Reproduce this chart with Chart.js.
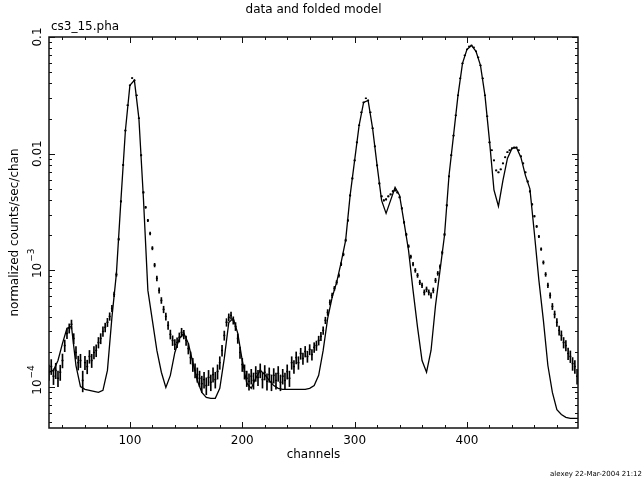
<!DOCTYPE html>
<html>
<head>
<meta charset="utf-8">
<title>data and folded model</title>
<script src="https://cdn.jsdelivr.net/npm/chart.js@4.4.1/dist/chart.umd.min.js"></script>
<style>
  html, body { margin: 0; padding: 0; background: #fff; }
  canvas { display: block; }
</style>
</head>
<body>
<canvas id="spec" width="644" height="483"></canvas>
<script>
// --- folded model (every 4th channel) ---
const modelChannels = [
  28, 32, 36, 40, 44, 48, 52, 56, 60, 64, 68, 72, 76, 80, 84, 88, 92, 96, 100, 104,
  108, 112, 116, 120, 124, 128, 132, 136, 140, 144, 148, 152, 156, 160, 164, 168, 172, 176, 180, 184,
  188, 192, 196, 200, 204, 208, 212, 216, 220, 224, 228, 232, 236, 240, 244, 248, 252, 256, 260, 264,
  268, 272, 276, 280, 284, 288, 292, 296, 300, 304, 308, 312, 316, 320, 324, 328, 332, 336, 340, 344,
  348, 352, 356, 360, 364, 368, 372, 376, 380, 384, 388, 392, 396, 400, 404, 408, 412, 416, 420, 424,
  428, 432, 436, 440, 444, 448, 452, 456, 460, 464, 468, 472, 476, 480, 484, 488, 492, 496, 499
];
const modelCounts = [
  1.34e-4, 1.39e-4, 1.69e-4, 2.37e-4, 3.19e-4, 3.31e-4, 1.53e-4, 1.01e-4, 9.56e-5, 9.37e-5,
  9.19e-5, 9.01e-5, 9.37e-5, 1.39e-4, 3.96e-4, 9.43e-4, 3.98e-3, 1.58e-2, 3.85e-2, 4.25e-2,
  2.01e-2, 4.22e-3, 6.74e-4, 3.73e-4, 2.06e-4, 1.34e-4, 9.94e-5, 1.26e-4, 1.98e-4, 2.61e-4,
  2.89e-4, 2.37e-4, 1.63e-4, 1.14e-4, 9.01e-5, 8.16e-5, 8.0e-5, 8.0e-5, 9.75e-5, 1.76e-4,
  3.58e-4, 3.88e-4, 2.89e-4, 1.69e-4, 1.08e-4, 9.75e-5, 1.19e-4, 1.39e-4, 1.28e-4, 1.14e-4,
  1.03e-4, 9.75e-5, 9.56e-5, 9.56e-5, 9.56e-5, 9.56e-5, 9.56e-5, 9.56e-5, 9.75e-5, 1.03e-4,
  1.26e-4, 2.06e-4, 3.88e-4, 5.87e-4, 7.89e-4, 1.17e-3, 1.81e-3, 4.39e-3, 8.76e-3, 1.75e-2,
  2.75e-2, 2.86e-2, 1.65e-2, 7.94e-3, 3.98e-3, 3.08e-3, 3.98e-3, 5.14e-3, 4.39e-3, 2.58e-3,
  1.48e-3, 6.74e-4, 3.25e-4, 1.69e-4, 1.34e-4, 2.06e-4, 5.01e-4, 1.0e-3, 2.0e-3, 6.5e-3,
  1.43e-2, 3.16e-2, 5.94e-2, 7.83e-2, 8.47e-2, 7.53e-2, 5.71e-2, 3.16e-2, 1.30e-2, 4.9e-3,
  3.55e-3, 5.9e-3, 9.1e-3, 1.11e-2, 1.13e-2, 9.29e-3, 6.52e-3, 5.0e-3, 2.07e-3, 8.21e-4,
  3.73e-4, 1.53e-4, 9.0e-5, 6.4e-5, 5.83e-5, 5.5e-5, 5.39e-5, 5.39e-5, 5.39e-5
];

// --- data points (every 2nd channel) with 1-sigma errors ---
const dataChannels = [
  28, 30, 32, 34, 36, 38, 40, 42, 44, 46, 48, 50, 52, 54, 56, 58, 60, 62, 64, 66,
  68, 70, 72, 74, 76, 78, 80, 82, 84, 86, 88, 90, 92, 94, 96, 98, 100, 102, 104, 106,
  108, 110, 112, 114, 116, 118, 120, 122, 124, 126, 128, 130, 132, 134, 136, 138, 140, 142, 144, 146,
  148, 150, 152, 154, 156, 158, 160, 162, 164, 166, 168, 170, 172, 174, 176, 178, 180, 182, 184, 186,
  188, 190, 192, 194, 196, 198, 200, 202, 204, 206, 208, 210, 212, 214, 216, 218, 220, 222, 224, 226,
  228, 230, 232, 234, 236, 238, 240, 242, 244, 246, 248, 250, 252, 254, 256, 258, 260, 262, 264, 266,
  268, 270, 272, 274, 276, 278, 280, 282, 284, 286, 288, 290, 292, 294, 296, 298, 300, 302, 304, 306,
  308, 310, 312, 314, 316, 318, 320, 322, 324, 326, 328, 330, 332, 334, 336, 338, 340, 342, 344, 346,
  348, 350, 352, 354, 356, 358, 360, 362, 364, 366, 368, 370, 372, 374, 376, 378, 380, 382, 384, 386,
  388, 390, 392, 394, 396, 398, 400, 402, 404, 406, 408, 410, 412, 414, 416, 418, 420, 422, 424, 426,
  428, 430, 432, 434, 436, 438, 440, 442, 444, 446, 448, 450, 452, 454, 456, 458, 460, 462, 464, 466,
  468, 470, 472, 474, 476, 478, 480, 482, 484, 486, 488, 490, 492, 494, 496, 498
];
const dataCounts = [
  1.34e-4, 1.50e-4, 1.24e-4, 1.39e-4, 1.19e-4, 1.34e-4, 1.69e-4, 2.27e-4, 2.88e-4, 3.19e-4,
  3.45e-4, 2.61e-4, 1.98e-4, 1.62e-4, 1.69e-4, 1.14e-4, 1.62e-4, 1.50e-4, 1.83e-4, 1.69e-4,
  1.98e-4, 2.06e-4, 2.41e-4, 2.61e-4, 3.00e-4, 3.25e-4, 3.59e-4, 4.03e-4, 4.72e-4, 6.23e-4,
  9.2e-4, 1.85e-3, 3.9e-3, 8.0e-3, 1.58e-2, 2.6e-2, 3.85e-2, 4.45e-2, 4.25e-2, 3.16e-2,
  2.01e-2, 9.7e-3, 4.66e-3, 3.47e-3, 2.68e-3, 2.07e-3, 1.55e-3, 1.11e-3, 8.54e-4, 6.74e-4,
  5.53e-4, 4.63e-4, 4.03e-4, 3.38e-4, 2.83e-4, 2.51e-4, 2.32e-4, 2.41e-4, 2.67e-4, 2.94e-4,
  2.83e-4, 2.51e-4, 2.14e-4, 1.79e-4, 1.56e-4, 1.39e-4, 1.28e-4, 1.19e-4, 1.07e-4, 1.16e-4,
  1.03e-4, 1.21e-4, 1.10e-4, 1.28e-4, 1.16e-4, 1.36e-4, 1.62e-4, 2.06e-4, 2.77e-4, 3.59e-4,
  3.96e-4, 4.11e-4, 3.73e-4, 3.31e-4, 2.61e-4, 1.98e-4, 1.56e-4, 1.36e-4, 1.19e-4, 1.12e-4,
  1.24e-4, 1.14e-4, 1.31e-4, 1.21e-4, 1.39e-4, 1.16e-4, 1.34e-4, 1.12e-4, 1.28e-4, 1.10e-4,
  1.26e-4, 1.14e-4, 1.31e-4, 1.10e-4, 1.24e-4, 1.14e-4, 1.36e-4, 1.19e-4, 1.62e-4, 1.50e-4,
  1.79e-4, 1.62e-4, 1.94e-4, 1.76e-4, 2.02e-4, 1.83e-4, 2.10e-4, 1.90e-4, 2.19e-4, 2.27e-4,
  2.51e-4, 2.72e-4, 3.06e-4, 3.73e-4, 4.36e-4, 5.32e-4, 6.11e-4, 7.01e-4, 7.89e-4, 9.06e-4,
  1.13e-3, 1.37e-3, 1.81e-3, 2.68e-3, 4.39e-3, 6.14e-3, 8.76e-3, 1.25e-2, 1.75e-2, 2.26e-2,
  2.75e-2, 2.98e-2, 2.86e-2, 2.26e-2, 1.65e-2, 1.155e-2, 7.94e-3, 5.56e-3, 4.31e-3, 3.98e-3,
  4.06e-3, 4.31e-3, 4.48e-3, 4.76e-3, 4.85e-3, 4.66e-3, 4.23e-3, 3.40e-3, 2.58e-3, 2.03e-3,
  1.61e-3, 1.31e-3, 1.13e-3, 1.0e-3, 9.06e-4, 7.89e-4, 7.44e-4, 6.48e-4, 6.88e-4, 6.48e-4,
  6.11e-4, 6.74e-4, 8.21e-4, 9.43e-4, 1.08e-3, 1.42e-3, 2.03e-3, 3.61e-3, 6.39e-3, 9.7e-3,
  1.43e-2, 2.13e-2, 3.16e-2, 4.42e-2, 5.94e-2, 6.96e-2, 7.83e-2, 8.31e-2, 8.47e-2, 8.15e-2,
  7.53e-2, 6.69e-2, 5.71e-2, 4.42e-2, 3.16e-2, 2.09e-2, 1.25e-2, 1.07e-2, 8.76e-3, 7.19e-3,
  6.92e-3, 7.34e-3, 8.26e-3, 9.32e-3, 1.03e-2, 1.07e-2, 1.11e-2, 1.13e-2, 1.13e-2, 1.07e-2,
  9.5e-3, 8.26e-3, 6.92e-3, 5.78e-3, 4.75e-3, 3.68e-3, 2.91e-3, 2.38e-3, 1.95e-3, 1.52e-3,
  1.17e-3, 9.24e-4, 7.44e-4, 6.11e-4, 4.91e-4, 4.2e-4, 3.59e-4, 3.06e-4, 2.77e-4, 2.41e-4,
  2.27e-4, 1.94e-4, 1.83e-4, 1.59e-4, 1.50e-4, 1.24e-4
];
const dataErrors = [
  2.0e-5, 2.2e-5, 1.9e-5, 2.1e-5, 1.8e-5, 2.0e-5, 2.3e-5, 2.6e-5, 2.8e-5, 2.9e-5,
  3.0e-5, 2.6e-5, 2.4e-5, 2.2e-5, 2.2e-5, 2.3e-5, 2.1e-5, 2.0e-5, 2.3e-5, 2.2e-5,
  2.4e-5, 2.4e-5, 2.5e-5, 2.6e-5, 2.8e-5, 2.8e-5, 2.9e-5, 3.0e-5, 2.9e-5, 2.8e-5,
  3.0e-5, 4e-5, 6e-5, 1e-4, 1.5e-4, 2e-4, 2.5e-4, 2.7e-4, 2.6e-4, 2.2e-4,
  1.8e-4, 1.2e-4, 8e-5, 7e-5, 6e-5, 6e-5, 5e-5, 4e-5, 4e-5, 3.5e-5,
  3.2e-5, 3.0e-5, 2.8e-5, 2.6e-5, 2.5e-5, 2.4e-5, 2.3e-5, 2.3e-5, 2.4e-5, 2.5e-5,
  2.4e-5, 2.3e-5, 2.2e-5, 2.1e-5, 2.0e-5, 1.9e-5, 1.8e-5, 1.8e-5, 1.7e-5, 1.8e-5,
  1.7e-5, 1.8e-5, 1.7e-5, 1.8e-5, 1.8e-5, 1.9e-5, 2.0e-5, 2.2e-5, 2.5e-5, 2.7e-5,
  2.8e-5, 2.9e-5, 2.7e-5, 2.6e-5, 2.4e-5, 2.2e-5, 2.0e-5, 1.9e-5, 1.8e-5, 1.8e-5,
  1.8e-5, 1.8e-5, 1.9e-5, 1.8e-5, 1.9e-5, 1.8e-5, 1.9e-5, 1.8e-5, 1.8e-5, 1.7e-5,
  1.8e-5, 1.8e-5, 1.9e-5, 1.7e-5, 1.8e-5, 1.8e-5, 1.9e-5, 1.8e-5, 2.0e-5, 1.9e-5,
  2.1e-5, 2.0e-5, 2.1e-5, 2.0e-5, 2.1e-5, 2.0e-5, 2.1e-5, 2.0e-5, 2.1e-5, 2.1e-5,
  2.2e-5, 2.2e-5, 2.3e-5, 2.4e-5, 2.5e-5, 2.6e-5, 2.7e-5, 2.8e-5, 2.9e-5, 3.0e-5,
  3.5e-5, 3.8e-5, 4.2e-5, 5e-5, 6e-5, 8e-5, 9e-5, 1.1e-4, 1.3e-4, 1.5e-4,
  1.7e-4, 1.7e-4, 1.7e-4, 1.5e-4, 1.3e-4, 1.1e-4, 9e-5, 7e-5, 6e-5, 6e-5,
  6e-5, 6e-5, 6e-5, 7e-5, 7e-5, 7e-5, 6e-5, 6e-5, 5e-5, 5e-5,
  4.5e-5, 4.2e-5, 4e-5, 3.8e-5, 3.6e-5, 3.5e-5, 3.4e-5, 3.3e-5, 3.3e-5, 3.3e-5,
  3.2e-5, 3.3e-5, 3.5e-5, 3.6e-5, 3.8e-5, 4.2e-5, 5e-5, 6e-5, 8e-5, 1e-4,
  1.2e-4, 1.5e-4, 1.8e-4, 2.1e-4, 2.5e-4, 2.7e-4, 2.8e-4, 2.9e-4, 2.9e-4, 2.9e-4,
  2.8e-4, 2.6e-4, 2.4e-4, 2.1e-4, 1.8e-4, 1.5e-4, 1.1e-4, 1e-4, 9e-5, 8e-5,
  8e-5, 8e-5, 9e-5, 1e-4, 1e-4, 1e-4, 1.1e-4, 1.1e-4, 1.1e-4, 1e-4,
  1e-4, 9e-5, 8e-5, 8e-5, 7e-5, 6e-5, 5e-5, 5e-5, 4.5e-5, 4e-5,
  3.8e-5, 3.5e-5, 3.3e-5, 3.2e-5, 3.0e-5, 2.9e-5, 2.8e-5, 2.7e-5, 2.6e-5, 2.5e-5,
  2.3e-5, 2.2e-5, 2.1e-5, 2.0e-5, 1.9e-5, 1.8e-5
];

// --- axes ---
const xRange = [28, 498.8];
const yRange = [4.46e-5, 0.1];
const xTickLabels = ['100', '200', '300', '400'];
const xMajorTicks = [100, 200, 300, 400];
const yMajorTicks = [0.1, 0.01, 1e-3, 1e-4];
const yTickLabels = [['0.1', ''], ['0.01', ''], ['10', '\u22123'], ['10', '\u22124']];

const FONT = '"DejaVu Sans", sans-serif';
const INK = '#000';

const pgFrame = {
  id: 'pgFrame',
  afterDraw(chart) {
    const { ctx, chartArea: a, scales } = chart;
    const x = scales.x, y = scales.y;
    ctx.save();

    // box
    ctx.strokeStyle = '#111';
    ctx.lineWidth = 1.5;
    ctx.strokeRect(a.left, a.top, a.right - a.left, a.bottom - a.top);

    // inward ticks on all four sides
    ctx.lineWidth = 1;
    ctx.beginPath();
    for (let c = 40; c <= xRange[1]; c += 20) {
      const px = Math.round(x.getPixelForValue(c)) + 0.5;
      const len = c % 100 === 0 ? 6 : 3;
      ctx.moveTo(px, a.bottom); ctx.lineTo(px, a.bottom - len);
      ctx.moveTo(px, a.top); ctx.lineTo(px, a.top + len);
    }
    for (let k = -5; k <= -1; k++) {
      for (let m = 1; m <= 9; m++) {
        const v = m * Math.pow(10, k);
        if (v < yRange[0] || v > yRange[1]) continue;
        const py = Math.round(y.getPixelForValue(v)) + 0.5;
        const len = m === 1 ? 6 : 3;
        ctx.moveTo(a.left, py); ctx.lineTo(a.left + len, py);
        ctx.moveTo(a.right, py); ctx.lineTo(a.right - len, py);
      }
    }
    ctx.stroke();

    ctx.fillStyle = INK;

    // x tick labels
    ctx.font = '12px ' + FONT;
    ctx.textAlign = 'center';
    ctx.textBaseline = 'middle';
    xMajorTicks.forEach((c, i) => {
      ctx.fillText(xTickLabels[i], x.getPixelForValue(c), 441);
    });

    // y tick labels (rotated, with exponents)
    yMajorTicks.forEach((v, i) => {
      const py = y.getPixelForValue(v);
      const [base, sup] = yTickLabels[i];
      ctx.save();
      ctx.translate(38, py);
      ctx.rotate(-Math.PI / 2);
      ctx.font = '12px ' + FONT;
      ctx.textAlign = 'center';
      ctx.textBaseline = 'middle';
      ctx.fillText(base, 0, 0);
      if (sup) {
        const wb = ctx.measureText(base).width;
        ctx.font = '9px ' + FONT;
        ctx.textAlign = 'left';
        ctx.fillText(sup, wb / 2 + 1, -6);
      }
      ctx.restore();
    });

    // titles
    const mid = (a.left + a.right) / 2;
    ctx.font = '12px ' + FONT;
    ctx.textAlign = 'center';
    ctx.fillText('data and folded model', mid, 10);
    ctx.fillText('channels', mid, 455);
    ctx.textAlign = 'left';
    ctx.fillText('cs3_15.pha', 51, 27);

    ctx.save();
    ctx.translate(15, (a.top + a.bottom) / 2);
    ctx.rotate(-Math.PI / 2);
    ctx.textAlign = 'center';
    ctx.fillText('normalized counts/sec/chan', 0, 0);
    ctx.restore();

    ctx.font = '7px ' + FONT;
    ctx.textAlign = 'right';
    ctx.fillText('alexey 22-Mar-2004 21:12', 642, 474);

    ctx.restore();
  }
};

const errorBars = dataChannels.map((c, i) => ({ x: c, y: [dataCounts[i] - dataErrors[i], dataCounts[i] + dataErrors[i]] }));
const dataPoints = dataChannels.map((c, i) => ({ x: c, y: dataCounts[i] }));
const modelPoints = modelChannels.map((c, i) => ({ x: c, y: modelCounts[i] }));

new Chart(document.getElementById('spec'), {
  type: 'scatter',
  data: {
    datasets: [
      {
        type: 'bar',
        label: 'errors',
        data: errorBars,
        backgroundColor: INK,
        borderWidth: 0,
        barThickness: 1,
        grouped: false,
        order: 3,
      },
      {
        type: 'scatter',
        label: 'data',
        data: dataPoints,
        pointStyle: 'line',
        pointRadius: 1,
        borderColor: INK,
        borderWidth: 1.4,
        order: 2,
      },
      {
        type: 'line',
        label: 'model',
        data: modelPoints,
        borderColor: INK,
        borderWidth: 1.3,
        pointRadius: 0,
        tension: 0,
        fill: false,
        order: 1,
      },
    ],
  },
  options: {
    responsive: false,
    animation: false,
    devicePixelRatio: 1,
    layout: { padding: { left: 49, top: 37, right: 66, bottom: 55 } },
    plugins: {
      legend: { display: false },
      tooltip: { enabled: false },
    },
    scales: {
      x: { type: 'linear', min: xRange[0], max: xRange[1], offset: false, display: false },
      y: { type: 'logarithmic', min: yRange[0], max: yRange[1], display: false },
    },
  },
  plugins: [pgFrame],
});
</script>
</body>
</html>
